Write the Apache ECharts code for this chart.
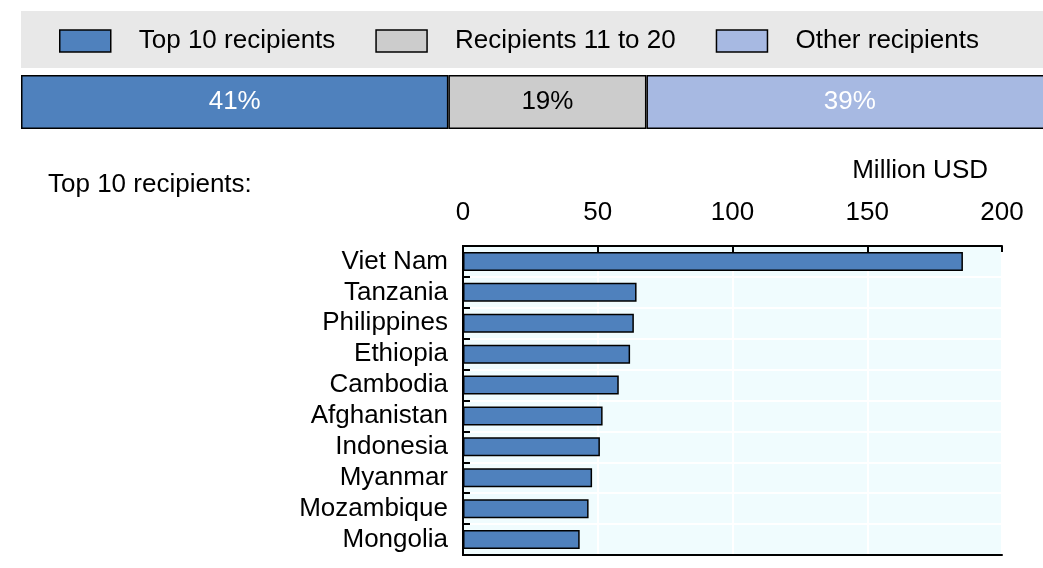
<!DOCTYPE html>
<html>
<head>
  <meta charset="utf-8">
  <title>Top recipients</title>
  <script src="https://cdn.jsdelivr.net/npm/echarts@6/dist/echarts.min.js"></script>
  <style type="text/css">
    body {
      margin: 0;
      background: #ffffff;
    }

    #chart {
      width: 1043px;
      height: 568px;
    }
  </style>
</head>
<body>
<div id="chart"></div>
<script>
  // 份额（%）
  var shareNames = ['Top 10 recipients', 'Recipients 11 to 20', 'Other recipients'];
  var shareValues = [41, 19, 39];
  var shareColors = ['#4f81bd', '#cccccc', '#a7b9e2'];
  var shareLabelColors = ['#ffffff', '#000000', '#ffffff'];

  // 前十名（百万美元）
  var countries = ['Viet Nam', 'Tanzania', 'Philippines', 'Ethiopia', 'Cambodia',
    'Afghanistan', 'Indonesia', 'Myanmar', 'Mozambique', 'Mongolia'];
  var amounts = [185.5, 64.4, 63.4, 62.0, 57.8, 51.8, 50.8, 47.9, 46.6, 43.3];
  var xTicks = [0, 50, 100, 150, 200];

  var font = "'Liberation Sans', Arial, sans-serif";
  var chart = echarts.init(document.getElementById('chart'));

  // 顶部堆叠条
  var shareSeries = shareNames.map(function (name, i) {
    return {
      name: name,
      type: 'bar',
      stack: 'share',
      xAxisIndex: 0,
      yAxisIndex: 0,
      barWidth: 54,
      data: [shareValues[i]],
      itemStyle: {color: shareColors[i], borderColor: '#000', borderWidth: 1.5},
      label: {
        show: true,
        position: 'inside',
        formatter: '{c}%',
        color: shareLabelColors[i],
        fontSize: 26,
        fontFamily: font
      },
      silent: true
    };
  });

  // 边框用的空轴
  var frameLine = {show: true, lineStyle: {color: '#000', width: 2}};

  var option = {
    animation: false,
    graphic: [
      {
        type: 'rect',
        z: -10,
        shape: {x: 21, y: 11, width: 1030, height: 57},
        style: {fill: '#e8e8e8'}
      },
      {
        type: 'text',
        left: 48,
        top: 172,
        style: {text: 'Top 10 recipients:', fontSize: 26, fontFamily: font, fill: '#000'}
      },
      {
        type: 'text',
        right: 55,
        top: 158,
        style: {text: 'Million USD', fontSize: 26, fontFamily: font, fill: '#000'}
      }
    ],
    legend: {
      left: 59,
      top: 26,
      padding: 0,
      icon: 'rect',
      itemWidth: 51,
      itemHeight: 22,
      itemGap: 40,
      data: shareNames,
      itemStyle: {borderColor: '#000', borderWidth: 1.5},
      textStyle: {fontSize: 26, fontFamily: font, color: '#000', padding: [0, 0, 0, 23], lineHeight: 30}
    },
    grid: [
      {left: 21, top: 75, width: 1032, height: 54, outerBoundsMode: 'none'},
      {
        left: 463, right: 41, top: 246, bottom: 13,
        show: true, backgroundColor: '#f0fcfe', borderWidth: 0
      }
    ],
    xAxis: [
      {gridIndex: 0, type: 'value', min: 0, max: 99, show: false},
      {
        gridIndex: 1,
        type: 'value',
        position: 'top',
        min: 0,
        max: 200,
        interval: 50,
        axisLine: frameLine,
        axisTick: {show: true, inside: true, length: 6, lineStyle: {color: '#000', width: 2}},
        axisLabel: {
          margin: 20, fontSize: 26, fontFamily: font, color: '#000',
          formatter: function (v) { return xTicks.indexOf(v) >= 0 ? String(v) : ''; }
        },
        splitLine: {show: true, lineStyle: {color: '#ffffff', width: 2}}
      },
      {
        gridIndex: 1,
        type: 'value',
        position: 'bottom',
        min: 0,
        max: 200,
        interval: 50,
        axisLine: frameLine,
        axisTick: {show: false},
        axisLabel: {show: false},
        splitLine: {show: false}
      }
    ],
    yAxis: [
      {gridIndex: 0, type: 'category', data: ['share'], show: false},
      {
        gridIndex: 1,
        type: 'category',
        inverse: true,
        data: countries,
        axisLine: frameLine,
        axisTick: {show: true, inside: true, length: 7, lineStyle: {color: '#000', width: 2}},
        axisLabel: {interval: 0, margin: 15, fontSize: 26, fontFamily: font, color: '#000'},
        splitLine: {show: true, lineStyle: {color: '#ffffff', width: 2}}
      },
      {
        gridIndex: 1,
        type: 'category',
        position: 'right',
        inverse: true,
        data: countries,
        axisLine: frameLine,
        axisTick: {show: false},
        axisLabel: {show: false},
        splitLine: {show: false}
      }
    ],
    series: shareSeries.concat([
      {
        type: 'bar',
        xAxisIndex: 1,
        yAxisIndex: 1,
        barWidth: 19,
        data: amounts,
        itemStyle: {color: '#4f81bd', borderColor: '#000', borderWidth: 1.5},
        silent: true
      }
    ])
  };

  chart.setOption(option);
</script>
</body>
</html>
